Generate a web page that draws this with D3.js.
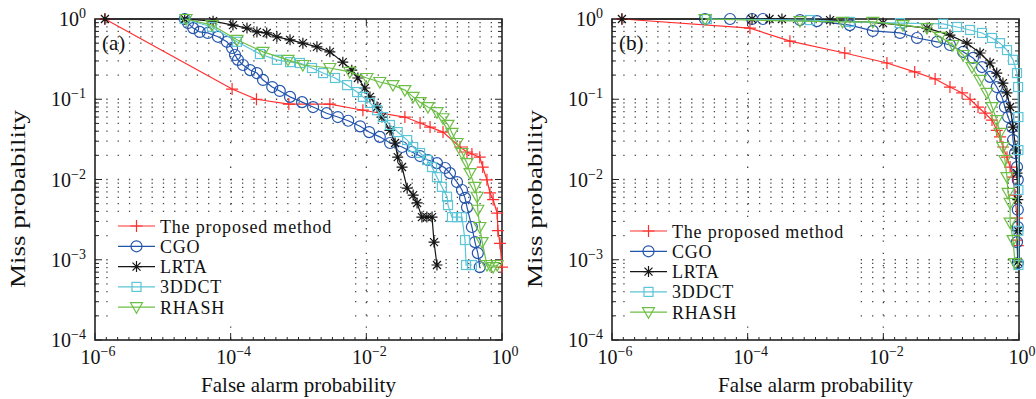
<!DOCTYPE html>
<html>
<head>
<meta charset="utf-8">
<script src="https://cdn.jsdelivr.net/npm/d3@7"></script>
<style>
  body { margin: 0; background: #fff; }
  svg { display: block; font-family: "Liberation Serif", "Times New Roman", serif; }
</style>
</head>
<body>
<svg id="chart" width="1036" height="399"></svg>
<script>
// ---- data (false alarm probability, miss probability) ----
const seriesNames = ['The proposed method', 'CGO', 'LRTA', '3DDCT', 'RHASH'];
const seriesColors = ['#ff2e2e', '#2455ad', '#151515', '#5cc5d8', '#6cbf45'];
const seriesMarkers = ['plus', 'circle', 'star', 'square', 'triangle'];
const xTickValues = [1e-6, 1e-4, 1e-2, 1];
const xTickExps = ['−6', '−4', '−2', '0'];
const yTickValues = [1, 1e-1, 1e-2, 1e-3, 1e-4];
const yTickExps = ['0', '−1', '−2', '−3', '−4'];

const proposedA = [[1.4e-6, 1], [1.05e-4, 0.134], [2.4e-4, 0.10], [7.2e-4, 0.087], [2.9e-3, 0.087], [8.9e-3, 0.073],
  [0.037, 0.060], [0.062, 0.0506], [0.087, 0.045], [0.135, 0.039], [0.24, 0.0254], [0.305, 0.022], [0.36, 0.0208],
  [0.47, 0.019], [0.52, 0.0143], [0.60, 0.0099], [0.665, 0.0068], [0.74, 0.0056], [0.85, 0.0038], [0.87, 0.0023],
  [0.935, 0.0016], [1.0, 0.00081]];
const cgoA = [[2.1e-5, 1], [2.35e-5, 0.89], [2.8e-5, 0.77], [3.5e-5, 0.69], [4.6e-5, 0.67], [6.5e-5, 0.60], [8.8e-5, 0.52],
  [1.05e-4, 0.435], [1.16e-4, 0.356], [1.28e-4, 0.31], [1.52e-4, 0.267], [1.93e-4, 0.231], [2.44e-4, 0.212], [3.0e-4, 0.174],
  [4.1e-4, 0.142], [5.3e-4, 0.127], [7.5e-4, 0.107], [1.13e-3, 0.092], [1.64e-3, 0.080], [2.6e-3, 0.067], [3.8e-3, 0.060],
  [5.4e-3, 0.054], [8.1e-3, 0.046], [0.011, 0.039], [0.0158, 0.034], [0.0224, 0.0285], [0.0336, 0.0254], [0.047, 0.022],
  [0.062, 0.0196], [0.081, 0.0175], [0.11, 0.016], [0.145, 0.0139], [0.171, 0.012], [0.217, 0.0093], [0.257, 0.0074],
  [0.285, 0.0059], [0.305, 0.0045], [0.36, 0.00256], [0.40, 0.00166], [0.44, 0.00121], [0.47, 0.00081]];
const lrtaA = [[1.4e-6, 1], [2.1e-5, 1], [5.5e-5, 0.94], [1.08e-4, 0.84], [1.74e-4, 0.77], [2.44e-4, 0.69], [3.4e-4, 0.67],
  [4.8e-4, 0.60], [7.5e-4, 0.55], [1.16e-3, 0.50], [1.87e-3, 0.45], [2.9e-3, 0.39], [4.5e-3, 0.29], [6.1e-3, 0.23],
  [7.5e-3, 0.184], [9.5e-3, 0.138], [0.0113, 0.107], [0.0144, 0.080], [0.017, 0.060], [0.0223, 0.041], [0.0265, 0.0285],
  [0.029, 0.019], [0.0336, 0.0143], [0.040, 0.0078], [0.049, 0.0064], [0.056, 0.0051], [0.066, 0.0034], [0.078, 0.0034],
  [0.093, 0.0034], [0.0995, 0.00166], [0.11, 0.00086]];
const dctA = [[2.1e-5, 1], [5.3e-5, 0.795], [1.24e-4, 0.52], [2.7e-4, 0.366], [4.8e-4, 0.31], [7.5e-4, 0.29], [1.05e-3, 0.283],
  [1.58e-3, 0.245], [2.3e-3, 0.212], [3.45e-3, 0.184], [5.2e-3, 0.15], [7.3e-3, 0.123], [8.9e-3, 0.107], [0.0113, 0.090],
  [0.0144, 0.073], [0.0176, 0.060], [0.0223, 0.0478], [0.029, 0.039], [0.040, 0.031], [0.049, 0.0254], [0.062, 0.0214],
  [0.0785, 0.0175], [0.093, 0.0143], [0.11, 0.0107], [0.13, 0.0081], [0.155, 0.0061], [0.16, 0.0048], [0.183, 0.0034],
  [0.217, 0.0034], [0.257, 0.0034], [0.285, 0.00176], [0.295, 0.00086], [0.36, 0.00086]];
const rhashA = [[2.2e-5, 1], [5.3e-5, 0.84], [1.24e-4, 0.55], [3.0e-4, 0.39], [7.0e-4, 0.31], [1.16e-3, 0.267], [2.9e-3, 0.245],
  [5.7e-3, 0.219], [0.0102, 0.184], [0.0158, 0.164], [0.0247, 0.15], [0.037, 0.130], [0.049, 0.107], [0.062, 0.092],
  [0.081, 0.080], [0.11, 0.069], [0.135, 0.058], [0.16, 0.048], [0.183, 0.038], [0.217, 0.0285], [0.257, 0.0214],
  [0.305, 0.016], [0.338, 0.012], [0.40, 0.0081], [0.43, 0.0061], [0.44, 0.0042], [0.47, 0.00256], [0.51, 0.00166],
  [0.60, 0.00086], [0.665, 0.00086], [0.74, 0.00081], [0.85, 0.00086]];

const proposedB = [[1.4e-6, 1], [1.08e-4, 0.77], [4.2e-4, 0.53], [2.7e-3, 0.377], [0.0113, 0.283], [0.029, 0.219], [0.058, 0.179],
  [0.096, 0.142], [0.145, 0.12], [0.19, 0.10], [0.249, 0.080], [0.315, 0.067], [0.40, 0.055], [0.47, 0.041], [0.525, 0.034],
  [0.58, 0.0254], [0.665, 0.019], [0.74, 0.0143], [0.817, 0.0107], [0.873, 0.0064], [0.935, 0.0033], [0.935, 0.00176],
  [0.96, 0.0015]];
const cgoB = [[2.35e-5, 1], [5.5e-5, 1], [1.16e-4, 1], [1.68e-4, 1], [5.9e-4, 0.97], [1.05e-3, 0.94], [3.2e-3, 0.84],
  [7.0e-3, 0.71], [0.0176, 0.67], [0.0314, 0.58], [0.062, 0.52], [0.096, 0.474], [0.15, 0.39], [0.21, 0.327], [0.285, 0.252],
  [0.374, 0.19], [0.47, 0.142], [0.56, 0.107], [0.62, 0.080], [0.69, 0.060], [0.79, 0.045], [0.817, 0.031], [0.873, 0.0214],
  [0.935, 0.0143], [0.96, 0.0099], [0.96, 0.0042], [0.96, 0.00256], [0.935, 0.00166], [0.96, 0.00091]];
const lrtaB = [[1.4e-6, 1], [1.16e-4, 1], [2.1e-4, 1], [3.2e-4, 1], [1.64e-3, 0.97], [9.9e-3, 0.89], [0.044, 0.77], [0.096, 0.63],
  [0.171, 0.50], [0.266, 0.377], [0.374, 0.283], [0.47, 0.212], [0.58, 0.159], [0.665, 0.12], [0.74, 0.080], [0.817, 0.045],
  [0.90, 0.0233], [0.935, 0.012], [0.96, 0.0056], [0.96, 0.0023], [0.96, 0.00094]];
const dctB = [[2.5e-5, 1], [8.3e-4, 0.97], [3.2e-3, 0.92], [0.0176, 0.89], [0.076, 0.87], [0.122, 0.795], [0.19, 0.73],
  [0.285, 0.67], [0.40, 0.58], [0.525, 0.50], [0.665, 0.41], [0.817, 0.31], [0.935, 0.212], [0.97, 0.142], [0.98, 0.060],
  [0.98, 0.0233], [0.98, 0.0074], [0.98, 0.0023], [0.98, 0.00086]];
const rhashB = [[2.35e-5, 1], [5.9e-4, 0.94], [2.5e-3, 0.92], [7.0e-3, 0.92], [0.0195, 0.84], [0.044, 0.77], [0.0686, 0.60],
  [0.106, 0.474], [0.15, 0.356], [0.203, 0.252], [0.266, 0.174], [0.337, 0.12], [0.40, 0.080], [0.47, 0.055], [0.525, 0.038],
  [0.58, 0.0254], [0.62, 0.0175], [0.665, 0.0107], [0.69, 0.0068], [0.74, 0.0051], [0.74, 0.0029], [0.817, 0.00176],
  [0.873, 0.00091]];

const panels = [
  { label: '(a)', left: 95, right: 502, series: [proposedA, cgoA, lrtaA, dctA, rhashA], legend: { x: 118, y: 226, step: 20.3 } },
  { label: '(b)', left: 612, right: 1019, series: [proposedB, cgoB, lrtaB, dctB, rhashB], legend: { x: 630, y: 231, step: 20.3 } },
];

const TOP = 19;
const BOTTOM = 340;
const svg = d3.select('#chart');

function drawMarker(g, type, cx, cy, color) {
  const s = g.append('g').attr('transform', `translate(${cx},${cy})`)
    .attr('fill', 'none').attr('stroke', color).attr('stroke-width', 1.2);
  if (type === 'plus') {
    s.append('path').attr('d', 'M-6,0H6M0,-6V6');
  } else if (type === 'circle') {
    s.append('circle').attr('r', 5.5);
  } else if (type === 'star') {
    s.append('path').attr('d', 'M-5.5,0H5.5M0,-5.5V5.5M-4,-4L4,4M-4,4L4,-4');
  } else if (type === 'square') {
    s.append('rect').attr('x', -4.5).attr('y', -4.5).attr('width', 9).attr('height', 9);
  } else if (type === 'triangle') {
    s.append('path').attr('d', 'M-6,-4.5L6,-4.5L0,6Z');
  }
}

function powerLabel(sel, exp) {
  sel.append('tspan').text('10');
  sel.append('tspan').attr('dy', -8).attr('font-size', 14).text(exp);
}

panels.forEach((p) => {
  const x = d3.scaleLog().domain([1e-6, 1]).range([p.left, p.right]);
  const y = d3.scaleLog().domain([1e-4, 1]).range([BOTTOM, TOP]);
  const g = svg.append('g');
  const decade = (p.right - p.left) / 6;

  // horizontal dotted grid at every y tick (major and minor)
  const yGrid = [];
  d3.range(-4, 0).forEach((k) => d3.range(1, 10).forEach((m) => yGrid.push(m * Math.pow(10, k))));
  g.append('g').selectAll('line').data(yGrid.filter((v) => v > 1.001e-4)).enter().append('line')
    .attr('x1', p.left).attr('x2', p.right)
    .attr('y1', (d) => y(d)).attr('y2', (d) => y(d))
    .attr('stroke', '#444').attr('stroke-width', 1.3)
    .attr('stroke-dasharray', `1.3,${decade / 6 - 1.3}`);

  // vertical dotted grid at the inner x ticks
  g.append('g').selectAll('line').data(xTickValues.slice(1, 3)).enter().append('line')
    .attr('x1', (d) => x(d)).attr('x2', (d) => x(d))
    .attr('y1', TOP).attr('y2', BOTTOM)
    .attr('stroke', '#444').attr('stroke-width', 1.3)
    .attr('stroke-dasharray', '1.3,11');

  // axis box
  g.append('rect').attr('x', p.left).attr('y', TOP)
    .attr('width', p.right - p.left).attr('height', BOTTOM - TOP)
    .attr('fill', 'none').attr('stroke', '#222').attr('stroke-width', 1.6);

  // y ticks (both sides, inward)
  yGrid.forEach((v) => {
    const major = Math.abs(Math.log10(v) - Math.round(Math.log10(v))) < 1e-6;
    const len = major ? 7 : 4;
    g.append('line').attr('x1', p.left).attr('x2', p.left + len).attr('y1', y(v)).attr('y2', y(v))
      .attr('stroke', '#222').attr('stroke-width', 1);
    g.append('line').attr('x1', p.right).attr('x2', p.right - len).attr('y1', y(v)).attr('y2', y(v))
      .attr('stroke', '#222').attr('stroke-width', 1);
  });

  // x ticks: small ones every sixth of a decade, longer at labelled values
  d3.range(1, 36).forEach((i) => {
    const v = Math.pow(10, -6 + i / 6);
    g.append('line').attr('x1', x(v)).attr('x2', x(v)).attr('y1', BOTTOM).attr('y2', BOTTOM - 3)
      .attr('stroke', '#222').attr('stroke-width', 1);
  });
  xTickValues.forEach((v) => {
    g.append('line').attr('x1', x(v)).attr('x2', x(v)).attr('y1', BOTTOM).attr('y2', BOTTOM - 7)
      .attr('stroke', '#222').attr('stroke-width', 1);
    g.append('line').attr('x1', x(v)).attr('x2', x(v)).attr('y1', TOP).attr('y2', TOP + 7)
      .attr('stroke', '#222').attr('stroke-width', 1);
  });

  // tick labels
  xTickValues.forEach((v, i) => {
    const t = g.append('text').attr('x', x(v) + 3).attr('y', 364).attr('text-anchor', 'middle')
      .attr('font-size', 20).attr('fill', '#111');
    powerLabel(t, xTickExps[i]);
  });
  yTickValues.forEach((v, i) => {
    const t = g.append('text').attr('x', p.left - 9).attr('y', y(v) + 7).attr('text-anchor', 'end')
      .attr('font-size', 20).attr('fill', '#111');
    powerLabel(t, yTickExps[i]);
  });

  // axis titles
  g.append('text').attr('x', (p.left + p.right) / 2).attr('y', 392).attr('text-anchor', 'middle')
    .attr('font-size', 21).attr('fill', '#111').text('False alarm probability');
  g.append('text').attr('transform', `translate(${p.left - 70},199) rotate(-90)`).attr('text-anchor', 'middle')
    .attr('font-size', 21).attr('fill', '#111')
    .attr('textLength', 178).attr('lengthAdjust', 'spacingAndGlyphs').text('Miss probability');

  g.append('text').attr('x', p.left + 7).attr('y', 50).attr('font-size', 21).attr('fill', '#111').text(p.label);

  // series
  const line = d3.line().x((d) => x(d[0])).y((d) => y(d[1]));
  p.series.forEach((data, si) => {
    const sg = g.append('g');
    sg.append('path').datum(data).attr('d', line).attr('fill', 'none')
      .attr('stroke', seriesColors[si]).attr('stroke-width', 1.2);
    data.forEach((d) => drawMarker(sg, seriesMarkers[si], x(d[0]), y(d[1]), seriesColors[si]));
  });

  // legend
  const lg = g.append('g');
  lg.append('rect').attr('x', p.legend.x - 5).attr('y', p.legend.y - 12)
    .attr('width', 235).attr('height', p.legend.step * 5 + 4).attr('fill', '#fff');
  seriesNames.forEach((name, i) => {
    const ly = p.legend.y + i * p.legend.step;
    lg.append('line').attr('x1', p.legend.x).attr('x2', p.legend.x + 37).attr('y1', ly).attr('y2', ly)
      .attr('stroke', seriesColors[i]).attr('stroke-width', 1.2);
    drawMarker(lg, seriesMarkers[i], p.legend.x + 18.5, ly, seriesColors[i]);
    lg.append('text').attr('x', p.legend.x + 42).attr('y', ly + 6.5).attr('font-size', 18)
      .attr('letter-spacing', 0.8).attr('fill', '#111').text(name);
  });
});
</script>
</body>
</html>
